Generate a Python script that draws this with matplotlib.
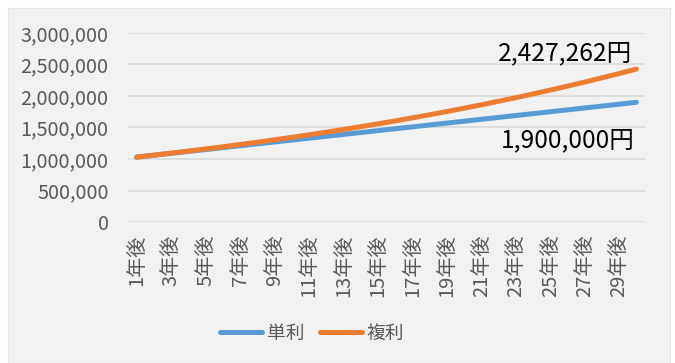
import matplotlib
matplotlib.use("Agg")
import matplotlib.pyplot as plt
from matplotlib.patches import Rectangle
from matplotlib.ticker import FuncFormatter, MultipleLocator

plt.rcParams['font.family'] = ['Noto Sans CJK JP', 'DejaVu Sans']

years = list(range(1, 31))
labels = [f"{y}年後" for y in years]
simple = [1030000, 1060000, 1090000, 1120000, 1150000, 1180000, 1210000, 1240000,
          1270000, 1300000, 1330000, 1360000, 1390000, 1420000, 1450000, 1480000,
          1510000, 1540000, 1570000, 1600000, 1630000, 1660000, 1690000, 1720000,
          1750000, 1780000, 1810000, 1840000, 1870000, 1900000]
compound = [1030000, 1060900, 1092727, 1125509, 1159274, 1194052, 1229874, 1266770,
            1304773, 1343916, 1384234, 1425761, 1468534, 1512590, 1557967, 1604706,
            1652848, 1702433, 1753506, 1806111, 1860295, 1916103, 1973587, 2032794,
            2093778, 2156591, 2221289, 2287928, 2356566, 2427262]
series_names = ["単利", "複利"]
annot_simple = "1,900,000円"
annot_compound = "2,427,262円"

W, H = 675, 363
fig = plt.figure(figsize=(W / 100, H / 100), dpi=100, facecolor='white')
bg = Rectangle((8 / W, 0), (670 - 8) / W, (H - 8) / H,
               transform=fig.transFigure, facecolor='#f2f2f2',
               edgecolor='#e6e6e6', lw=0.8, zorder=-10)
fig.patches.append(bg)

ax = fig.add_axes([128 / W, (H - 222) / H, 517 / W, (222 - 33) / H])
ax.set_facecolor('none')
ax.set_zorder(1)

blue = '#5b9bd5'
orange = '#ed7d31'
ax.plot(years, simple, color=blue, lw=3.6, solid_capstyle='round', label=series_names[0], zorder=3)
ax.plot(years, compound, color=orange, lw=3.6, solid_capstyle='round', label=series_names[1], zorder=4)

ax.set_xlim(0.5, 30.5)
ax.set_ylim(0, 3000000)
ax.yaxis.set_major_locator(MultipleLocator(500000))
ax.yaxis.set_major_formatter(FuncFormatter(lambda v, p: f"{int(v):,}"))
ax.grid(axis='y', color='#d9d9d9', lw=1.2)
ax.set_axisbelow(True)
for s in ax.spines.values():
    s.set_visible(False)

ax.set_xticks(years[::2])
ax.set_xticklabels(labels[::2], rotation=90, va='top', ha='center')
ax.tick_params(axis='both', length=0, colors='#595959')
ax.tick_params(axis='x', pad=9, labelsize=14.5)
ax.tick_params(axis='y', pad=14, labelsize=14.3)

fig.text(632 / W, 1 - 53 / H, annot_compound, ha='right', va='center',
         fontsize=17.7, color='black', zorder=5)
fig.text(635 / W, 1 - 140 / H, annot_simple, ha='right', va='center',
         fontsize=17.7, color='black', zorder=5)

leg = ax.legend(loc='center', bbox_to_anchor=(312 / W, 1 - 333 / H),
                bbox_transform=fig.transFigure, ncol=2, frameon=False,
                fontsize=13.5, handlelength=2.25, handletextpad=0.25,
                columnspacing=0.8, labelcolor='#595959')

fig.savefig('out.png', dpi=100, facecolor=fig.get_facecolor())
